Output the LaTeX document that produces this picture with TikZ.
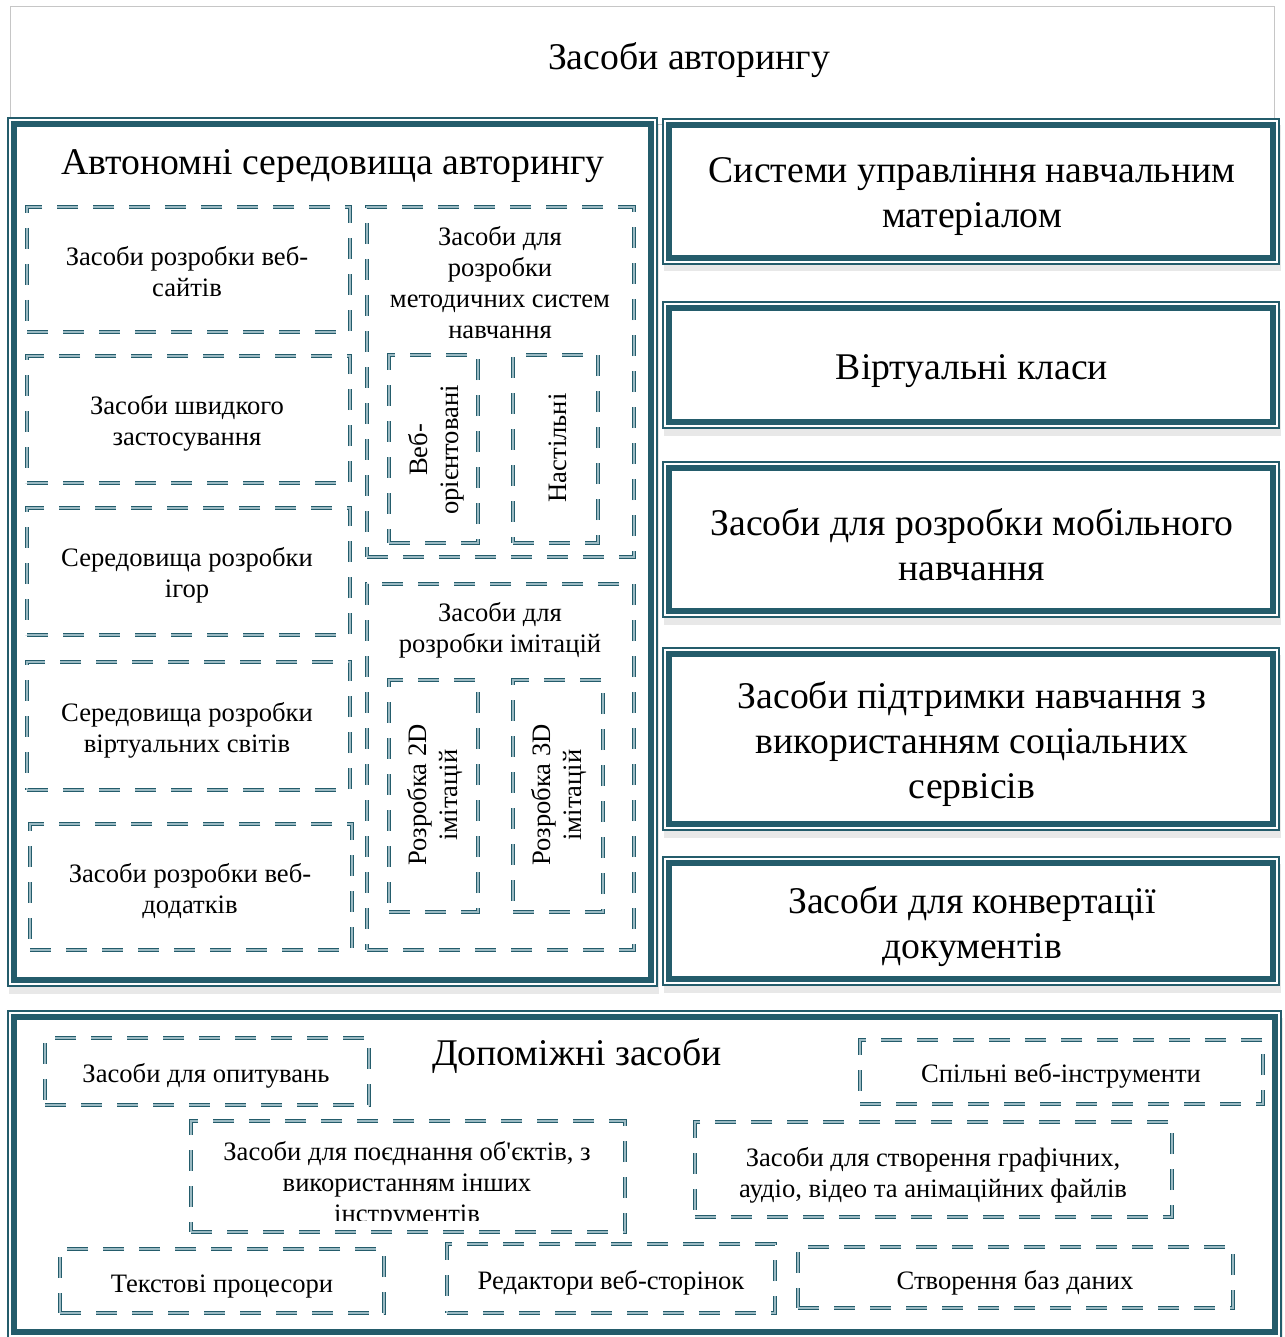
\documentclass[tikz,border=0pt]{standalone}
\usepackage{fontspec}
\setmainfont{Liberation Serif}
\definecolor{tealdk}{HTML}{245C6B}
\definecolor{teallt}{HTML}{9BBAC3}
\begin{document}
\begin{tikzpicture}[x=1pt,y=-1pt,
  big/.style={font=\fontsize{37.7}{45}\selectfont, align=center, inner sep=0pt},
  small/.style={font=\fontsize{26.6}{31}\selectfont, align=center, inner sep=0pt},
  thickbox/.style={draw=tealdk, line width=6.5pt, fill=white,
    preaction={draw=black, draw opacity=0.09, line width=13pt, transform canvas={xshift=1.5pt,yshift=-7pt}},
    preaction={draw=tealdk, line width=13.5pt},
    preaction={draw=white, line width=10.5pt},
    inner sep=0pt, outer sep=0pt},
  dbox/.style={draw=tealdk, double=teallt, line width=1.6pt, double distance=1.1pt,
    dash pattern=on 21pt off 15pt, inner sep=0pt, outer sep=0pt},
]
\useasboundingbox (0,0) rectangle (1284,1337);
\fill[white] (0,0) rectangle (1284,1337);

% top frame
\node[draw=gray!45, line width=1pt, minimum width=1264pt, minimum height=118pt, inner sep=0pt] (top) at (642,66) {};
\node[big] (toptitle) at (689,60) {Засоби авторингу};

% autonomous
\node[thickbox, minimum width=637pt, minimum height=856pt] (aut) at (332.5,552) {};
\node[big] (auttitle) at (333,166) {Автономні середовища авторингу};

\node[dbox, minimum width=323pt, minimum height=125pt] (d1) at (188.5,269.5) {};
\node[small] (d1t) at (187,271.5) {Засоби розробки веб-\\сайтів};
\node[dbox, minimum width=323pt, minimum height=127pt] (d2) at (188.5,419.5) {};
\node[small] (d2t) at (187,423) {Засоби швидкого\\застосування};
\node[dbox, minimum width=323pt, minimum height=127pt] (d3) at (188.5,571.5) {};
\node[small] (d3t) at (187,575) {Середовища розробки\\ігор};
\node[dbox, minimum width=323pt, minimum height=128pt] (d4) at (188.5,726) {};
\node[small] (d4t) at (187,730) {Середовища розробки\\віртуальних світів};
\node[dbox, minimum width=322pt, minimum height=126pt] (d5) at (191,887) {};
\node[small] (d5t) at (190,891) {Засоби розробки веб-\\додатків};

\node[dbox, minimum width=267pt, minimum height=350pt] (d6) at (500.5,382) {};
\node[small] (d6t) at (500,282.5) {Засоби для\\розробки\\методичних систем\\навчання};
\node[dbox, minimum width=89pt, minimum height=188pt] (d6a) at (433.5,449) {};
\node[small, rotate=90] (d6at) at (436,450) {Веб-\\орієнтовані};
\node[dbox, minimum width=85pt, minimum height=188pt] (d6b) at (555.5,449) {};
\node[small, rotate=90] (d6bt) at (558,448) {Настільні};

\node[dbox, minimum width=267pt, minimum height=366pt] (d7) at (500.5,767) {};
\node[small] (d7t) at (500,630.5) {Засоби для\\розробки імітацій};
\node[dbox, minimum width=89pt, minimum height=232pt] (d7a) at (433.5,796) {};
\node[small, rotate=90] (d7at) at (435,795) {Розробка 2D\\імітацій};
\node[dbox, minimum width=90pt, minimum height=232pt] (d7b) at (558,796) {};
\node[small, rotate=90] (d7bt) at (559,795) {Розробка 3D\\імітацій};

% right column
\node[thickbox, minimum width=604pt, minimum height=133pt] (r1) at (971,191.5) {};
\node[big] (r1t) at (972,197) {Системи управління навчальним\\матеріалом};
\node[thickbox, minimum width=604pt, minimum height=114pt] (r2) at (971,365) {};
\node[big] (r2t) at (972,371) {Віртуальні класи};
\node[thickbox, minimum width=604pt, minimum height=143pt] (r3) at (971,539.5) {};
\node[big] (r3t) at (972,545) {Засоби для розробки мобільного\\навчання};
\node[thickbox, minimum width=604pt, minimum height=170pt] (r4) at (971,739) {};
\node[big] (r4t) at (972,744) {Засоби підтримки навчання з\\використанням соціальних\\сервісів};
\node[thickbox, minimum width=604pt, minimum height=116pt] (r5) at (971,921) {};
\node[big] (r5t) at (972,927) {Засоби для конвертації\\документів};

% bottom
\node[thickbox, minimum width=1261pt, minimum height=315pt] (bot) at (644.5,1174.5) {};
\node[big] (bottitle) at (577,1056) {Допоміжні засоби};

\node[dbox, minimum width=324pt, minimum height=67pt] (b1) at (207,1071.5) {};
\node[small] (b1t) at (206,1076) {Засоби для опитувань};
\node[dbox, minimum width=403pt, minimum height=64pt] (b2) at (1061.5,1072) {};
\node[small] (b2t) at (1061,1076) {Спільні веб-інструменти};
\node[dbox, minimum width=434pt, minimum height=111pt] (b3) at (408,1176.5) {};
\begin{scope}
\clip (191,1121) rectangle (625,1220);
\node[small] (b3t) at (407,1184.5) {Засоби для поєднання об\textquotesingle єктів, з\\використанням інших\\інструментів};
\end{scope}
\node[dbox, minimum width=477pt, minimum height=95pt] (b4) at (933.5,1169.5) {};
\node[small] (b4t) at (933,1175.5) {Засоби для створення графічних,\\аудіо, відео та анімаційних файлів};
\node[dbox, minimum width=324pt, minimum height=64pt] (b5) at (222,1281) {};
\node[small] (b5t) at (222,1287) {Текстові процесори};
\node[dbox, minimum width=328pt, minimum height=69pt] (b6) at (611,1278.5) {};
\node[small] (b6t) at (611,1283) {Редактори веб-сторінок};
\node[dbox, minimum width=435pt, minimum height=61pt] (b7) at (1015.5,1277.5) {};
\node[small] (b7t) at (1015,1283) {Створення баз даних};
\end{tikzpicture}
\end{document}
